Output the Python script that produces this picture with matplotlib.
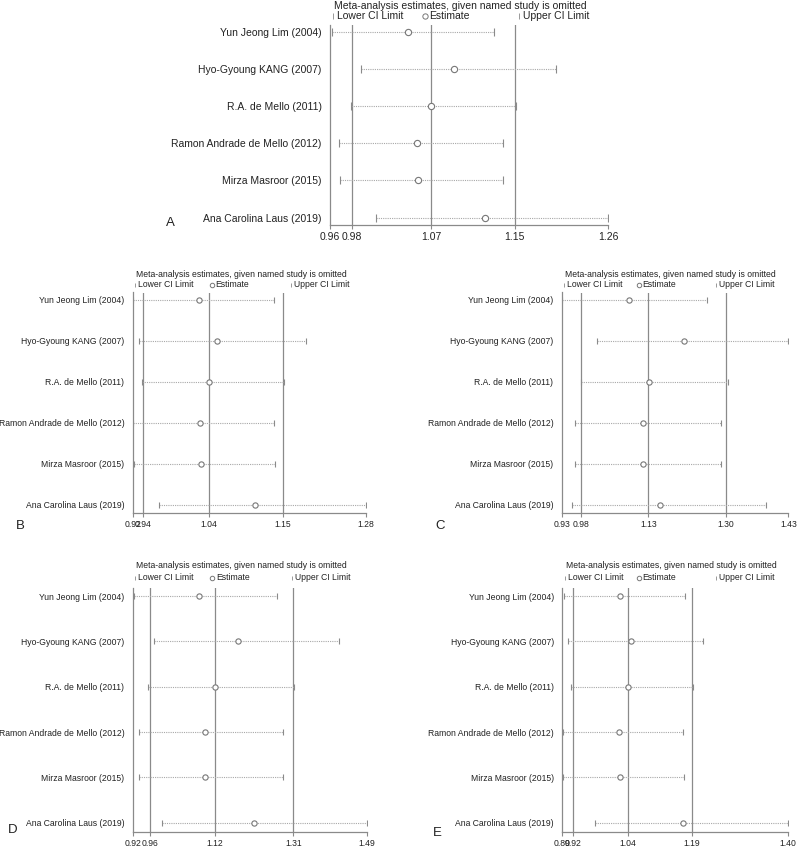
import numpy as np
import matplotlib
matplotlib.use("Agg")
import matplotlib.pyplot as plt

plt.rcParams['font.family'] = ['Liberation Sans', 'DejaVu Sans']

studies = ["Yun Jeong Lim (2004)", "Hyo-Gyoung KANG (2007)", "R.A. de Mello (2011)",
           "Ramon Andrade de Mello (2012)", "Mirza Masroor (2015)", "Ana Carolina Laus (2019)"]

# panel A
a_lower = [0.962, 0.993, 0.983, 0.970, 0.971, 1.010]
a_est = [1.044, 1.094, 1.069, 1.054, 1.055, 1.127]
a_upper = [1.137, 1.204, 1.161, 1.146, 1.147, 1.260]
a_ref = [0.984, 1.069, 1.159]
a_ticks = [0.96, 0.984, 1.069, 1.159, 1.26]
a_ticklabels = ["0.96", "0.98", "1.07", "1.15", "1.26"]

# panel B
b_lower = [0.921, 0.930, 0.935, 0.921, 0.922, 0.961]
b_est = [1.023, 1.051, 1.038, 1.024, 1.025, 1.109]
b_upper = [1.139, 1.187, 1.153, 1.139, 1.140, 1.280]
b_ref = [0.936, 1.038, 1.152]
b_ticks = [0.92, 0.936, 1.038, 1.152, 1.28]
b_ticklabels = ["0.92", "0.94", "1.04", "1.15", "1.28"]

# panel C
c_lower = [0.931, 1.007, 0.973, 0.959, 0.960, 0.952]
c_est = [1.078, 1.199, 1.123, 1.109, 1.109, 1.147]
c_upper = [1.250, 1.429, 1.298, 1.282, 1.281, 1.381]
c_ref = [0.973, 1.121, 1.293]
c_ticks = [0.93, 0.973, 1.121, 1.293, 1.43]
c_ticklabels = ["0.93", "0.98", "1.13", "1.30", "1.43"]

# panel D
d_lower = [0.922, 0.973, 0.957, 0.935, 0.936, 0.991]
d_est = [1.082, 1.176, 1.121, 1.096, 1.097, 1.215]
d_upper = [1.272, 1.423, 1.313, 1.285, 1.285, 1.490]
d_ref = [0.961, 1.121, 1.311]
d_ticks = [0.92, 0.961, 1.121, 1.311, 1.49]
d_ticklabels = ["0.92", "0.96", "1.12", "1.31", "1.49"]

# panel E
e_lower = [0.894, 0.902, 0.910, 0.892, 0.892, 0.963]
e_est = [1.021, 1.044, 1.038, 1.017, 1.020, 1.162]
e_upper = [1.167, 1.208, 1.184, 1.162, 1.165, 1.400]
e_ref = [0.914, 1.039, 1.182]
e_ticks = [0.89, 0.914, 1.039, 1.182, 1.40]
e_ticklabels = ["0.89", "0.92", "1.04", "1.19", "1.40"]

W, H = 800, 847
fig = plt.figure(figsize=(W / 100, H / 100), dpi=100)

LINE = '#8a8a8a'
DOT = '#a8a8a8'
TXT = '#222222'


def panel(box, lower, est, upper, ref, ticks, ticklabels, letter, letter_xy, fs, ms, title_dy, leg_dy):
    l, r, t, b = box
    ax = fig.add_axes([l / W, 1 - b / H, (r - l) / W, (b - t) / H])
    hpx = b - t
    y = np.arange(1, len(studies) + 1)
    for v in ref:
        ax.axvline(v, color=LINE, lw=0.9, zorder=1)
    for yi, lo, es, up in zip(y, lower, est, upper):
        ax.plot([lo, up], [yi, yi], color=DOT, lw=0.8, ls=(0, (1, 1)), zorder=2)
        ax.plot([lo, up], [yi, yi], ls='none', marker='|', color=LINE, ms=ms + 1, mew=0.8, zorder=3)
        ax.plot(es, yi, ls='none', marker='o', mfc='white', mec='#777777', ms=ms, mew=0.8, zorder=4)
    ax.set_xlim(ticks[0], ticks[-1])
    ax.set_ylim(6.2, 0.82)
    for s in ['top', 'right']:
        ax.spines[s].set_visible(False)
    for s in ['left', 'bottom']:
        ax.spines[s].set_color(LINE)
        ax.spines[s].set_linewidth(0.9)
    ax.set_yticks(y)
    ax.set_yticklabels(studies, fontsize=fs, color=TXT)
    ax.tick_params(axis='y', length=0, pad=6)
    ax.set_xticks(ticks)
    ax.set_xticklabels(ticklabels, fontsize=fs, color=TXT)
    ax.tick_params(axis='x', length=3, color=LINE, pad=2)

    ty = 1 + title_dy / hpx
    ly = 1 + leg_dy / hpx
    ax.text(0.016, ty, "Meta-analysis estimates, given named study is omitted",
            transform=ax.transAxes, fontsize=fs, color=TXT, va='center', ha='left')
    # legend keys
    ax.plot([0.011, 0.68], [ly, ly], transform=ax.transAxes, ls='none', marker='|',
            color='#999999', ms=ms * 0.9, mew=0.7, clip_on=False)
    ax.plot([0.34], [ly], transform=ax.transAxes, ls='none', marker='o', mfc='white',
            mec='#777777', ms=ms * 0.85, mew=0.7, clip_on=False)
    ax.text(0.024, ly, "Lower CI Limit", transform=ax.transAxes,
            fontsize=fs, color=TXT, va='center', ha='left')
    ax.text(0.355, ly, "Estimate", transform=ax.transAxes,
            fontsize=fs, color=TXT, va='center', ha='left')
    ax.text(0.694, ly, "Upper CI Limit", transform=ax.transAxes,
            fontsize=fs, color=TXT, va='center', ha='left')
    fig.text(letter_xy[0] / W, 1 - letter_xy[1] / H, letter, fontsize=9.5, color=TXT,
             ha='center', va='center')
    return ax


panel((330, 608.3, 25, 225), a_lower, a_est, a_upper, a_ref, a_ticks, a_ticklabels,
      "A", (170, 223), 7.5, 4.5, 19, 9)
panel((132.7, 365.7, 292.5, 512.7), b_lower, b_est, b_upper, b_ref, b_ticks, b_ticklabels,
      "B", (20, 526), 6.2, 3.8, 18.5, 8)
panel((561.7, 788.3, 292.5, 512.7), c_lower, c_est, c_upper, c_ref, c_ticks, c_ticklabels,
      "C", (440, 526), 6.2, 3.8, 18.5, 8)
panel((132.7, 366.7, 588, 831.7), d_lower, d_est, d_upper, d_ref, d_ticks, d_ticklabels,
      "D", (13, 830), 6.2, 3.8, 23, 10.5)
panel((562.3, 788.3, 588, 831.7), e_lower, e_est, e_upper, e_ref, e_ticks, e_ticklabels,
      "E", (437, 833), 6.2, 3.8, 23, 10.5)

fig.savefig("out.png", dpi=100, facecolor='white')
